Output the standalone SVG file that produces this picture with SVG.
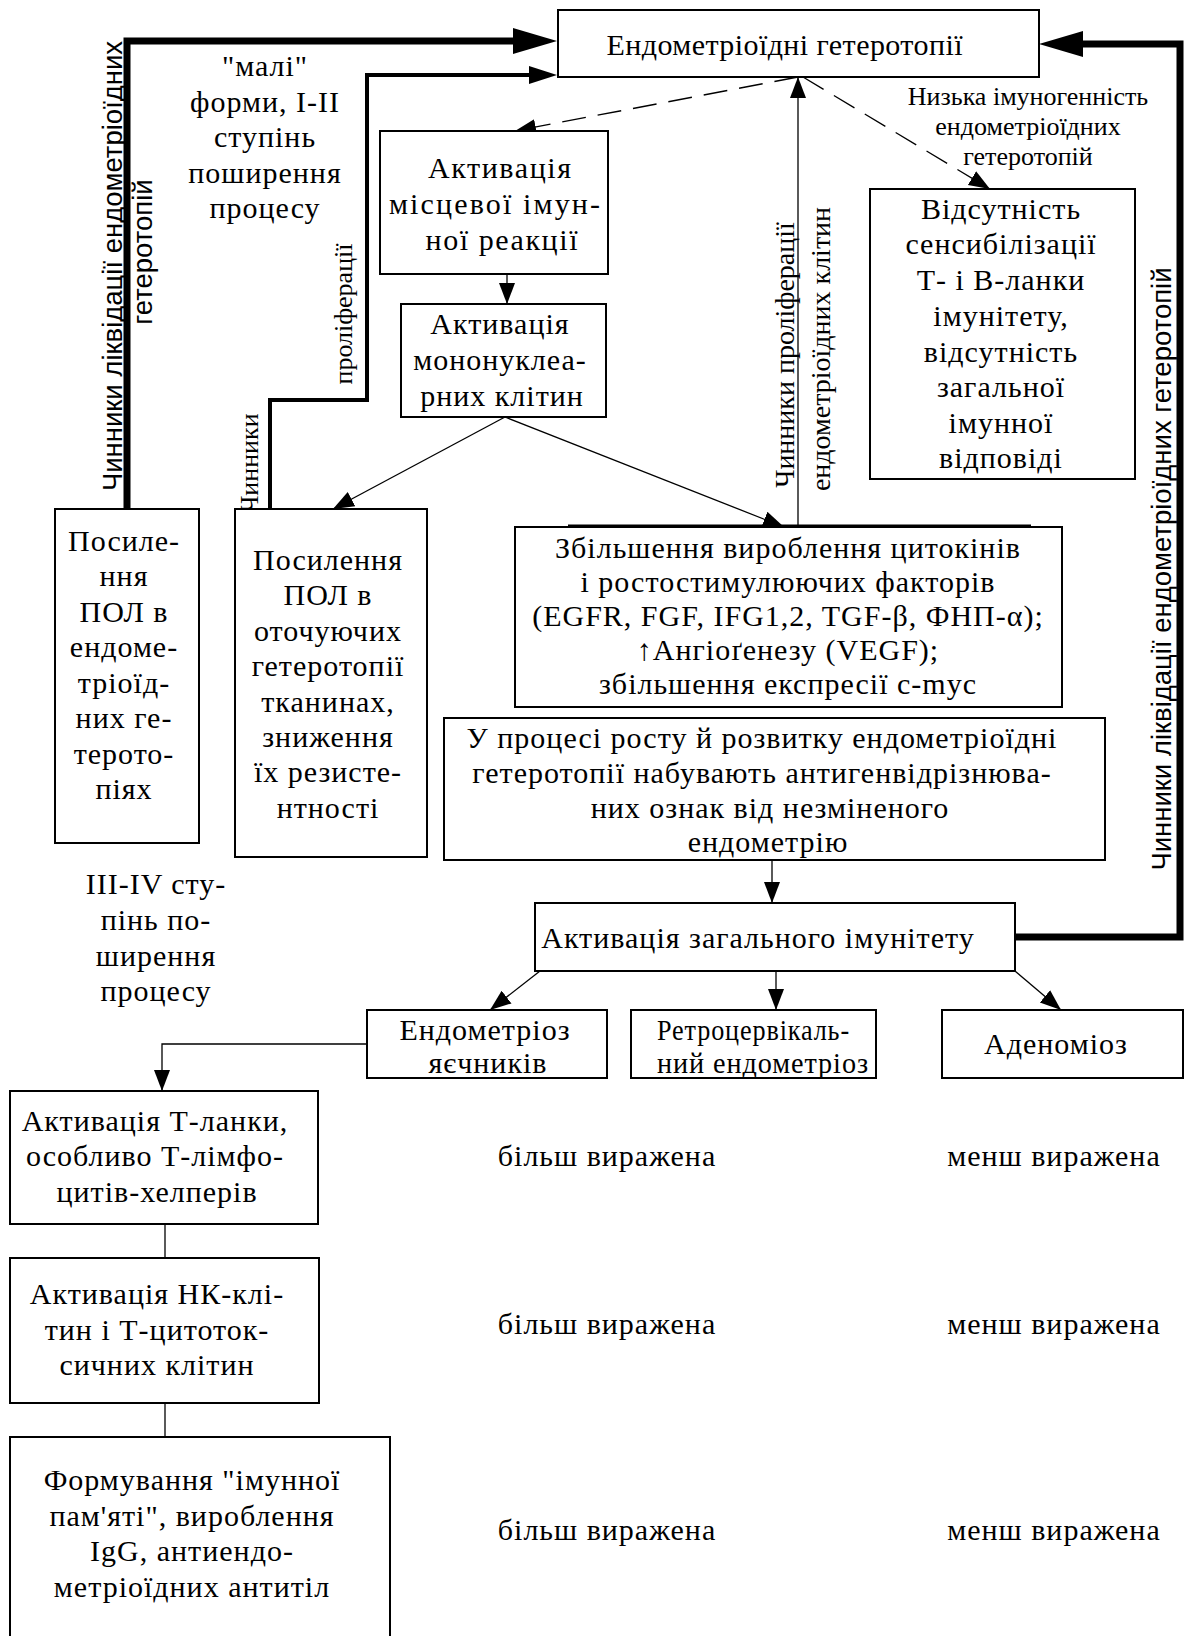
<svg xmlns="http://www.w3.org/2000/svg" width="1184" height="1636" viewBox="0 0 1184 1636">
<style>
.box{fill:#fff;stroke:#000;stroke-width:2}
.t{font-family:"Liberation Serif","Times New Roman",serif;font-size:30px;letter-spacing:1px;fill:#000}
.c{text-anchor:middle}
.sm{font-size:26px;letter-spacing:0}
.v{font-size:26px;letter-spacing:0}
.vm{font-size:28px;letter-spacing:0}
.s{font-family:"Liberation Sans",Arial,sans-serif;font-size:27.5px;fill:#000;text-anchor:middle}
.ln{fill:none;stroke:#000;stroke-width:1.3}
.dash{stroke-dasharray:24 12}
.thick{fill:none;stroke:#000;stroke-width:7;stroke-linejoin:miter}
.med{fill:none;stroke:#000;stroke-width:4;stroke-linejoin:miter}
</style>
<defs>
<marker id="ahThin" markerUnits="userSpaceOnUse" markerWidth="24" markerHeight="20" viewBox="0 -10 24 20" refX="21" refY="0" orient="auto"><path d="M0,-8 L21,0 L0,8 z" fill="#000"/></marker>
<marker id="ahBig" markerUnits="userSpaceOnUse" markerWidth="46" markerHeight="30" viewBox="0 -15 46 30" refX="0" refY="0" orient="auto"><path d="M0,-13 L44,0 L0,13 z" fill="#000"/></marker>
<marker id="ahMed" markerUnits="userSpaceOnUse" markerWidth="30" markerHeight="22" viewBox="0 -11 30 22" refX="0" refY="0" orient="auto"><path d="M0,-9 L28,0 L0,9 z" fill="#000"/></marker>
</defs>
<rect width="1184" height="1636" fill="#fff"/>

<g id="connectors">
<path class="thick" d="M127,509 V41 H513" marker-end="url(#ahBig)"/>
<path class="med" d="M270,509 V400 H367 V75 H529" marker-end="url(#ahMed)"/>
<path class="thick" d="M1015,937 H1180 V44 H1083" marker-end="url(#ahBig)"/>
<path class="ln dash" d="M798,77 L515,131" marker-end="url(#ahThin)"/>
<path class="ln dash" d="M803,77 L990,189" marker-end="url(#ahThin)"/>
<path class="ln" d="M798,527 V77" marker-end="url(#ahThin)"/>
<path class="ln" d="M507,274 V304" marker-end="url(#ahThin)"/>
<path class="ln" d="M505,417 L333,509" marker-end="url(#ahThin)"/>
<path class="ln" d="M505,417 L784,527" marker-end="url(#ahThin)"/>
<path class="ln" d="M772,860 V903" marker-end="url(#ahThin)"/>
<path class="ln" d="M540,971 L490,1010" marker-end="url(#ahThin)"/>
<path class="ln" d="M776,971 V1010" marker-end="url(#ahThin)"/>
<path class="ln" d="M1015,971 L1061,1010" marker-end="url(#ahThin)"/>
<path class="ln" d="M367,1044 H162 V1091" marker-end="url(#ahThin)"/>
<path class="ln" d="M165,1224 V1258"/>
<path class="ln" d="M165,1403 V1437"/>
</g>

<g id="lbl-likv-left">
<text class="s" transform="translate(122,266) rotate(-90)">Чинники ліквідації ендометріоїдних</text>
<text class="s" transform="translate(152,252) rotate(-90)">гетеротопій</text>
</g>
<g id="lbl-prolif-left">
<text class="t v c" transform="translate(352,314) rotate(-90)">проліферації</text>
<text class="t v c" transform="translate(258,463) rotate(-90)">Чинники</text>
</g>
<g id="lbl-prolif-mid">
<text class="t vm c" transform="translate(794,355) rotate(-90)">Чинники проліферації</text>
<text class="t vm c" transform="translate(830,349) rotate(-90)">ендометріоїдних клітин</text>
</g>
<g id="lbl-likv-right">
<text class="s" transform="translate(1171,569) rotate(-90)">Чинники ліквідації ендометріоїдних гетеротопій</text>
</g>
<g id="lbl-mali" class="t c">
<text x="265" y="76">"малі"</text>
<text x="265" y="112">форми, I-II</text>
<text x="265" y="147">ступінь</text>
<text x="265" y="183">поширення</text>
<text x="265" y="218">процесу</text>
</g>
<g id="lbl-low" class="t c sm">
<text x="1028" y="105">Низька імуногенність</text>
<text x="1028" y="135">ендометріоїдних</text>
<text x="1028" y="165">гетеротопій</text>
</g>
<g id="lbl-3-4" class="t c">
<text x="156" y="894">III-IV сту-</text>
<text x="156" y="930">пінь по-</text>
<text x="156" y="966">ширення</text>
<text x="156" y="1001">процесу</text>
</g>

<g id="n-heterotopii">
<rect class="box" x="558" y="10" width="481" height="67"/>
<text class="t c" x="785" y="55" textLength="357">Ендометріоїдні гетеротопії</text>
</g>
<g id="n-local">
<rect class="box" x="380" y="131" width="228" height="143"/>
<g class="t c"><text x="500" y="178" textLength="144">Активація</text><text x="495" y="214" textLength="212">місцевої імун-</text><text x="502" y="250" textLength="153">ної реакції</text></g>
</g>
<g id="n-mono">
<rect class="box" x="401" y="304" width="205" height="113"/>
<g class="t c"><text x="500" y="334">Активація</text><text x="500" y="370">мононуклеа-</text><text x="502" y="406">рних клітин</text></g>
</g>
<g id="n-absent">
<rect class="box" x="870" y="189" width="265" height="290"/>
<g class="t c"><text x="1001" y="219">Відсутність</text><text x="1001" y="254">сенсибілізації</text><text x="1001" y="290">Т- і В-ланки</text><text x="1001" y="326">імунітету,</text><text x="1001" y="362">відсутність</text><text x="1001" y="397">загальної</text><text x="1001" y="433">імунної</text><text x="1001" y="468">відповіді</text></g>
</g>
<g id="n-pol1">
<rect class="box" x="55" y="509" width="144" height="334"/>
<g class="t c"><text x="124" y="551">Посиле-</text><text x="124" y="586">ння</text><text x="124" y="622">ПОЛ в</text><text x="124" y="657">ендоме-</text><text x="124" y="693">тріоїд-</text><text x="124" y="728">них ге-</text><text x="124" y="764">терото-</text><text x="124" y="799">піях</text></g>
</g>
<g id="n-pol2">
<rect class="box" x="235" y="509" width="192" height="348"/>
<g class="t c"><text x="328" y="570">Посилення</text><text x="328" y="605">ПОЛ в</text><text x="328" y="641">оточуючих</text><text x="328" y="676">гетеротопії</text><text x="328" y="712">тканинах,</text><text x="328" y="747">зниження</text><text x="328" y="782">їх резисте-</text><text x="328" y="818">нтності</text></g>
</g>
<g id="n-cytokines">
<rect class="box" x="515" y="527" width="547" height="180"/>
<path d="M568,526 H1031" stroke="#000" stroke-width="3"/>
<g class="t c"><text x="788" y="558">Збільшення вироблення цитокінів</text><text x="788" y="592">і ростостимулюючих факторів</text><text x="788" y="626">(EGFR, FGF, IFG1,2, TGF-β, ФНП-α);</text><text x="788" y="660">↑Ангіоґенезу (VEGF);</text><text x="788" y="694">збільшення експресії c-myc</text></g>
</g>
<g id="n-antigen">
<rect class="box" x="444" y="718" width="661" height="142"/>
<g class="t c"><text x="762" y="748">У процесі росту й розвитку ендометріоїдні</text><text x="762" y="783">гетеротопії набувають антигенвідрізнюва-</text><text x="770" y="818">них ознак від незміненого</text><text x="768" y="852">ендометрію</text></g>
</g>
<g id="n-general">
<rect class="box" x="535" y="903" width="480" height="68"/>
<text class="t c" x="758" y="948">Активація загального імунітету</text>
</g>
<g id="n-ovary">
<rect class="box" x="367" y="1010" width="240" height="68"/>
<g class="t c"><text x="485" y="1040">Ендометріоз</text><text x="488" y="1073">яєчників</text></g>
</g>
<g id="n-retro">
<rect class="box" x="631" y="1010" width="245" height="68"/>
<g class="t"><text x="657" y="1040" textLength="193" lengthAdjust="spacingAndGlyphs">Ретроцервікаль-</text><text x="657" y="1073" textLength="212" lengthAdjust="spacingAndGlyphs">ний ендометріоз</text></g>
</g>
<g id="n-adeno">
<rect class="box" x="942" y="1010" width="241" height="68"/>
<text class="t c" x="1056" y="1054">Аденоміоз</text>
</g>
<g id="n-tcell">
<rect class="box" x="10" y="1091" width="308" height="133"/>
<g class="t c"><text x="155" y="1131">Активація Т-ланки,</text><text x="155" y="1166">особливо Т-лімфо-</text><text x="157" y="1202">цитів-хелперів</text></g>
</g>
<g id="n-nk">
<rect class="box" x="10" y="1258" width="309" height="145"/>
<g class="t c"><text x="157" y="1304">Активація НК-клі-</text><text x="157" y="1340">тин і Т-цитоток-</text><text x="157" y="1375">сичних клітин</text></g>
</g>
<g id="n-memory">
<rect class="box" x="10" y="1437" width="380" height="210"/>
<g class="t c"><text x="192" y="1490">Формування "імунної</text><text x="192" y="1526">пам'яті", вироблення</text><text x="192" y="1561">IgG, антиендо-</text><text x="192" y="1597">метріоїдних антитіл</text></g>
</g>
<g id="lbl-degree" class="t c">
<text x="607" y="1166">більш виражена</text>
<text x="607" y="1334">більш виражена</text>
<text x="607" y="1540">більш виражена</text>
<text x="1054" y="1166">менш виражена</text>
<text x="1054" y="1334">менш виражена</text>
<text x="1054" y="1540">менш виражена</text>
</g>
</svg>
